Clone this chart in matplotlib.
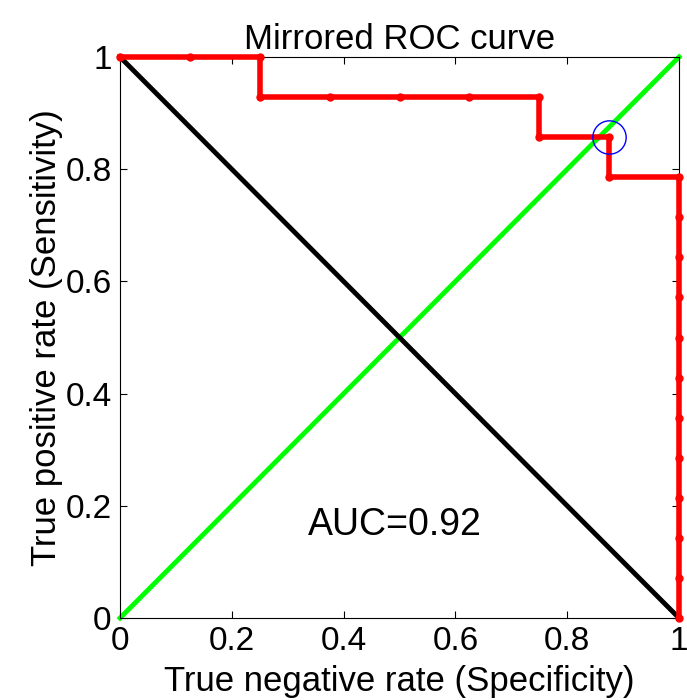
import matplotlib.pyplot as plt
from matplotlib.ticker import FuncFormatter

plt.rcParams['font.family'] = ['Liberation Sans', 'DejaVu Sans']

# ROC points (specificity on x, sensitivity on y), 8 negatives / 14 positives
specificity = [0, 0.125, 0.25, 0.25, 0.375, 0.5, 0.625, 0.75, 0.75, 0.875, 0.875,
               1, 1, 1, 1, 1, 1, 1, 1, 1, 1, 1, 1]
sensitivity = [1, 1, 1, 13/14, 13/14, 13/14, 13/14, 13/14, 12/14, 12/14, 11/14,
               11/14, 10/14, 9/14, 8/14, 7/14, 6/14, 5/14, 4/14, 3/14, 2/14, 1/14, 0]
# operating point
best_spec = 0.875
best_sens = 12/14
auc_text = "AUC=0.92"

fig = plt.figure(figsize=(6.87, 7.0), dpi=100)
ax = fig.add_axes([0.1747, 0.1171, 0.8137, 0.8015])

ax.plot([0, 1], [0, 1], color="#00ff00", lw=3.5, clip_on=False, zorder=2)
ax.plot([0, 1], [1, 0], color="black", lw=3.5, clip_on=False, zorder=3)
ax.plot(specificity, sensitivity, color="red", lw=4, marker="o", ms=5,
        clip_on=False, zorder=4)
ax.plot(best_spec, best_sens, marker="o", ms=24, mfc="none", mec="blue",
        mew=1, zorder=5)

ax.text(0.336, 0.148, auc_text, fontsize=27, ha="left", va="baseline")

ax.set_xlim(0, 1)
ax.set_ylim(0, 1)
ticks = [0, 0.2, 0.4, 0.6, 0.8, 1]
ax.set_xticks(ticks)
ax.set_yticks(ticks)
fmt = FuncFormatter(lambda v, p: "%g" % v)
ax.xaxis.set_major_formatter(fmt)
ax.yaxis.set_major_formatter(fmt)
ax.tick_params(direction="in", top=True, right=True, length=5, width=0.8,
               labelsize=24)
ax.tick_params(axis="x", pad=6)
ax.tick_params(axis="y", pad=6)
for s in ax.spines.values():
    s.set_linewidth(0.8)

ax.set_title("Mirrored ROC curve", fontsize=25, pad=6)
ax.set_xlabel("True negative rate (Specificity)", fontsize=25, va="baseline")
ax.xaxis.set_label_coords(0.5, -0.13)
ax.set_ylabel("True positive rate (Sensitivity)", fontsize=25, labelpad=2)

fig.savefig("out.png", dpi=100)
